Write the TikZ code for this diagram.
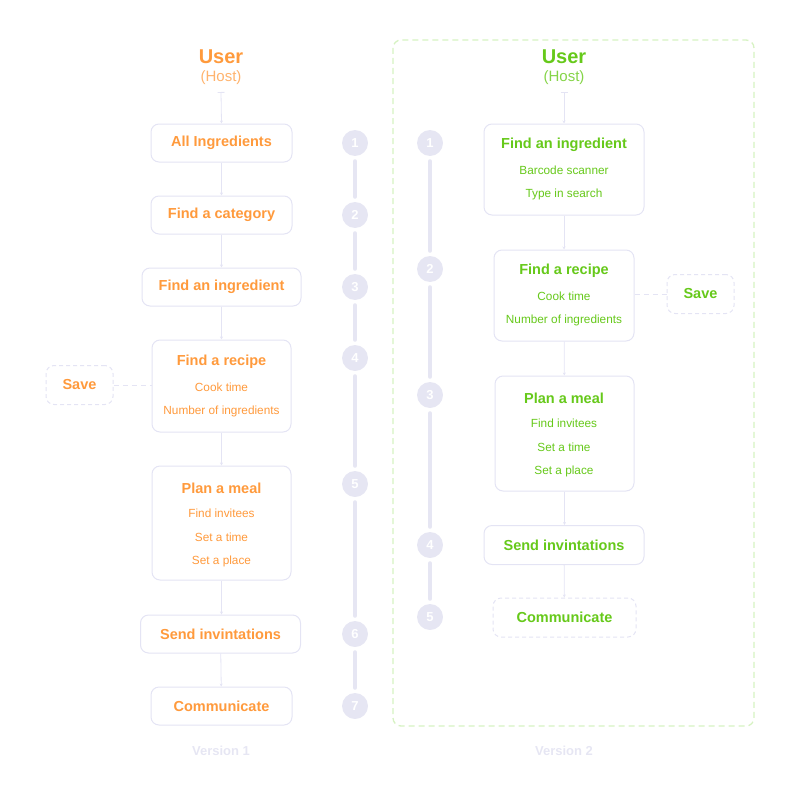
\documentclass[tikz,border=0pt]{standalone}
\usepackage{fontspec}
\setmainfont{Liberation Sans}
\usetikzlibrary{arrows.meta}
\definecolor{org}{HTML}{FF9A3C}
\definecolor{grn}{HTML}{66C91A}
\definecolor{bx}{HTML}{E4E4F4}
\definecolor{cir}{HTML}{E6E6F3}
\definecolor{dgr}{HTML}{D6F2C2}
\begin{document}
\begin{tikzpicture}[x=1pt,y=-1pt,
  box/.style={draw=bx, line width=1pt, rounded corners=8pt, fill=white, inner sep=0pt},
  dbox/.style={box, dash pattern=on 4pt off 3pt},
  ttl/.style={font=\fontsize{14.5}{16}\selectfont\bfseries},
  sub/.style={font=\fontsize{11.8}{13}\selectfont},
  conn/.style={draw=bx, line width=0.8pt, -{Stealth[length=3pt,width=3pt]}},
  topconn/.style={draw=bx, line width=0.8pt, {Bar[width=7pt,line width=0.8pt]}-{Stealth[length=3pt,width=3pt]}},
  dconn/.style={draw=bx, line width=1pt, dash pattern=on 5pt off 4pt},
  stepc/.style={circle, fill=cir, minimum size=26pt, inner sep=0pt, text=white, font=\fontsize{13}{13}\selectfont\bfseries},
  tl/.style={draw=cir, line width=4pt, line cap=round, shorten >=5pt, shorten <=5pt},
  usr/.style={font=\fontsize{20}{22}\selectfont\bfseries},
  hst/.style={font=\fontsize{15}{17}\selectfont},
  ver/.style={font=\fontsize{13}{15}\selectfont\bfseries, text=cir}
]
\useasboundingbox (0,0) rectangle (800,800);

% right container
\draw[draw=dgr, line width=1.3pt, dash pattern=on 6pt off 4pt, rounded corners=8pt] (393,40) rectangle (754,726);

% ===== Version 1 =====
\node[usr, text=org] (u1) at (221,57) {User};
\node[hst, text=org!75] (h1) at (221,78) {(Host)};
\coordinate (t1) at (221,92);

\node[box, minimum width=141pt, minimum height=38pt, ttl, text=org] (a1) at (221.5,143) {All Ingredients};
\node[box, minimum width=141pt, minimum height=38pt, ttl, text=org] (a2) at (221.5,215) {Find a category};
\node[box, minimum width=159pt, minimum height=38pt, ttl, text=org] (a3) at (221.5,287) {Find an ingredient};
\node[box, minimum width=139pt, minimum height=92pt] (a4) at (221.5,386) {};
\node[ttl, text=org] (a4t) at (221.5,362) {Find a recipe};
\node[sub, text=org] (a4a) at (221.5,387) {Cook time};
\node[sub, text=org] (a4b) at (221.5,411) {Number of ingredients};
\node[dbox, minimum width=67pt, minimum height=39pt, ttl, text=org] (s1) at (79.5,385) {Save};
\node[box, minimum width=139pt, minimum height=114pt] (a5) at (221.5,523) {};
\node[ttl, text=org] (a5t) at (221.5,488) {Plan a meal};
\node[sub, text=org] (a5a) at (221.5,513) {Find invitees};
\node[sub, text=org] (a5b) at (221.5,537) {Set a time};
\node[sub, text=org] (a5c) at (221.5,561) {Set a place};
\node[box, minimum width=160pt, minimum height=38pt, ttl, text=org] (a6) at (220.5,634) {Send invintations};
\node[box, minimum width=141pt, minimum height=38pt, ttl, text=org] (a7) at (221.5,706) {Communicate};
\node[ver] (v1) at (221,751) {Version 1};

\draw[topconn] (t1) -- (a1.north);
\draw[conn] (a1) -- (a2);
\draw[conn] (a2) -- (a3);
\draw[conn] (a3) -- (a4);
\draw[conn] (a4) -- (a5);
\draw[conn] (a5.south) -- (a5.south |- a6.north);
\draw[conn] (a6) -- (a7);
\draw[dconn] (s1.east) -- (s1.east -| a4.west);

\node[stepc] (n1) at (355,143) {1};
\node[stepc] (n2) at (355,215) {2};
\node[stepc] (n3) at (355,287) {3};
\node[stepc] (n4) at (355,358) {4};
\node[stepc] (n5) at (355,484) {5};
\node[stepc] (n6) at (355,634) {6};
\node[stepc] (n7) at (355,706) {7};
\draw[tl] (n1) -- (n2);
\draw[tl] (n2) -- (n3);
\draw[tl] (n3) -- (n4);
\draw[tl] (n4) -- (n5);
\draw[tl] (n5) -- (n6);
\draw[tl] (n6) -- (n7);

% ===== Version 2 =====
\node[usr, text=grn] (u2) at (564,57) {User};
\node[hst, text=grn!80] (h2) at (564,78) {(Host)};
\coordinate (t2) at (564,92);

\node[box, minimum width=160pt, minimum height=91pt] (b1) at (564,169.5) {};
\node[ttl, text=grn] (b1t) at (564,145) {Find an ingredient};
\node[sub, text=grn] (b1a) at (564,170) {Barcode scanner};
\node[sub, text=grn] (b1b) at (564,194) {Type in search};
\node[box, minimum width=140pt, minimum height=91pt] (b2) at (564,295.5) {};
\node[ttl, text=grn] (b2t) at (564,271) {Find a recipe};
\node[sub, text=grn] (b2a) at (564,296) {Cook time};
\node[sub, text=grn] (b2b) at (564,320) {Number of ingredients};
\node[dbox, minimum width=67pt, minimum height=39pt, ttl, text=grn] (s2) at (700.5,294) {Save};
\node[box, minimum width=139pt, minimum height=115pt] (b3) at (564.5,433.5) {};
\node[ttl, text=grn] (b3t) at (564,398) {Plan a meal};
\node[sub, text=grn] (b3a) at (564,423) {Find invitees};
\node[sub, text=grn] (b3b) at (564,447) {Set a time};
\node[sub, text=grn] (b3c) at (564,471) {Set a place};
\node[box, minimum width=160pt, minimum height=39pt, ttl, text=grn] (b4) at (564,545) {Send invintations};
\node[dbox, minimum width=143pt, minimum height=39pt, ttl, text=grn] (b5) at (564.5,617.5) {Communicate};
\node[ver] (v2) at (564,751) {Version 2};

\draw[topconn] (t2) -- (b1.north);
\draw[conn] (b1) -- (b2);
\draw[conn] (b2) -- (b3);
\draw[conn] (b3.south) -- (b3.south |- b4.north);
\draw[conn] (b4) -- (b5);
\draw[dconn] (b2.east |- s2.west) -- (s2.west);

\node[stepc] (m1) at (430,143) {1};
\node[stepc] (m2) at (430,269) {2};
\node[stepc] (m3) at (430,395) {3};
\node[stepc] (m4) at (430,545) {4};
\node[stepc] (m5) at (430,617) {5};
\draw[tl] (m1) -- (m2);
\draw[tl] (m2) -- (m3);
\draw[tl] (m3) -- (m4);
\draw[tl] (m4) -- (m5);
\end{tikzpicture}
\end{document}
